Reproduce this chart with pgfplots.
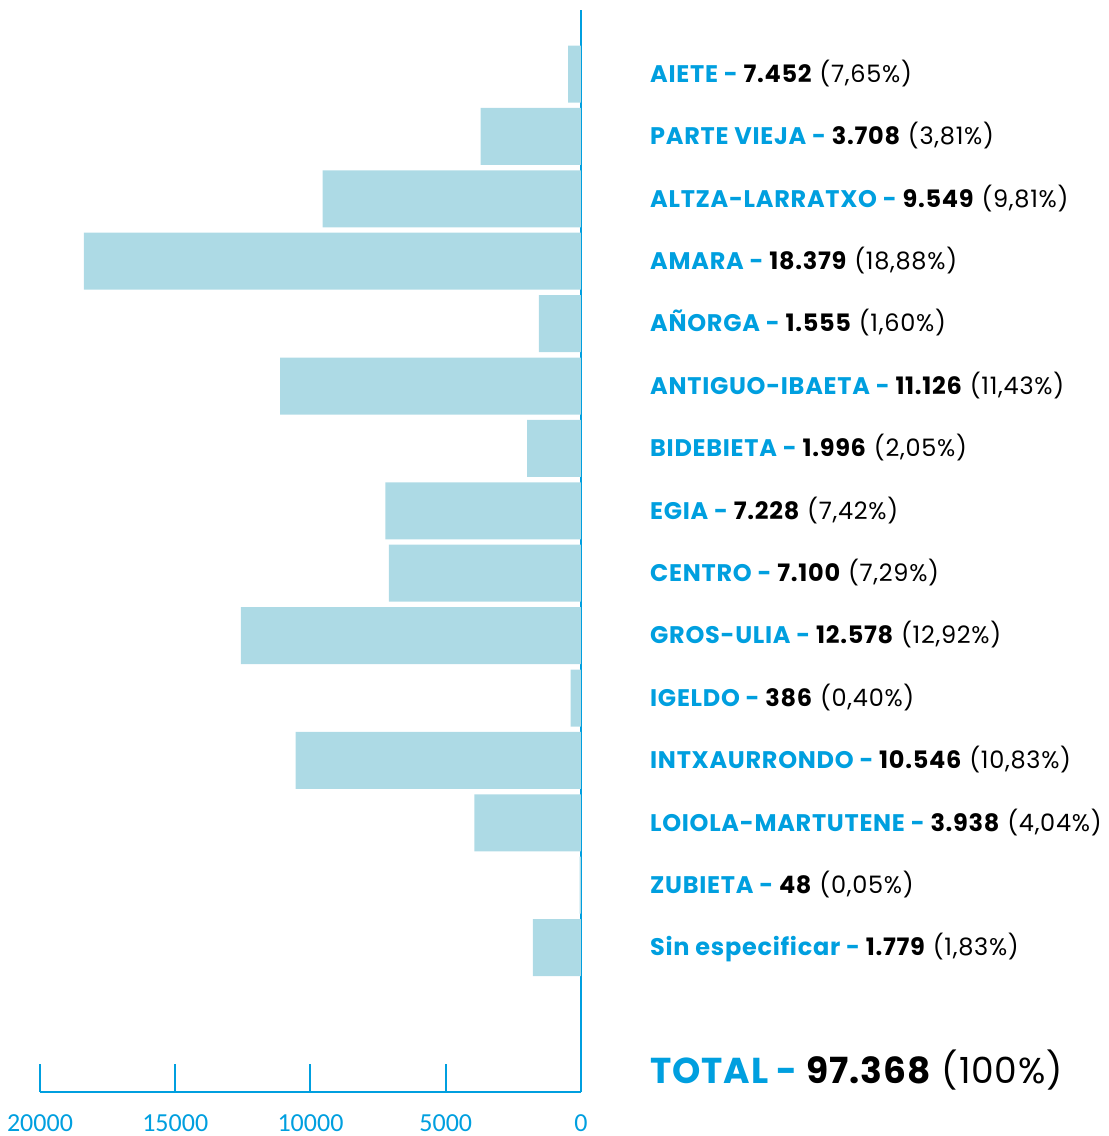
\documentclass[border=0pt]{standalone}
\usepackage{pgfplots}
\pgfplotsset{compat=1.18}
\usepackage{fontspec}
\setmainfont{Poppins}[LetterSpace=3]
\newfontfamily\tickfont{Carlito}
\definecolor{txtblue}{RGB}{0,159,223}
\definecolor{barblue}{RGB}{173,218,229}
\newcommand{\lab}[3]{\textcolor{txtblue}{\bfseries #1 - }\textbf{#2} (#3)}
\begin{document}
\begin{tikzpicture}[x=1pt,y=1pt]
\path[use as bounding box] (0,0) rectangle (1109,1136);
\begin{axis}[
 at={(40pt,44pt)}, anchor=south west,
 scale only axis, width=541pt, height=1082pt,
 xmin=0, xmax=20000, x dir=reverse,
 ymin=-16.314, ymax=1.0256,
 axis x line=bottom, axis y line=none,
 axis line style={-, txtblue, line width=2pt},
 xtick={0,5000,10000,15000,20000},
 scaled x ticks=false,
 xtick align=inside, major tick length=28pt,
 every tick/.style={txtblue, line width=2pt},
 xticklabel style={font=\tickfont\fontsize{26}{26}\selectfont, text=txtblue, inner sep=0pt, anchor=north, yshift=-22pt},
 /pgf/number format/1000 sep={},
 /pgf/number format/assume math mode=true,
 ytick=\empty,
 clip=false,
]
\draw[txtblue, line width=2pt] (axis cs:0,-16.314) -- (axis cs:0,1.0256);
\addplot[xbar, bar width=57pt, fill=barblue, draw=none] coordinates {
(480,0) (3708,-1) (9549,-2) (18379,-3) (1555,-4) (11126,-5) (1996,-6) (7228,-7)
(7100,-8) (12578,-9) (386,-10) (10546,-11) (3938,-12) (48,-13) (1779,-14)};
\begin{scope}[every node/.style={anchor=base west, xshift=69pt, yshift=-8.3pt, inner sep=0pt, font=\fontsize{24}{24}\selectfont}]
\node at (axis cs:0,0) {\lab{AIETE}{7.452}{7,65\%}};
\node at (axis cs:0,-1) {\lab{PARTE VIEJA}{3.708}{3,81\%}};
\node at (axis cs:0,-2) {\lab{ALTZA-LARRATXO}{9.549}{9,81\%}};
\node at (axis cs:0,-3) {\lab{AMARA}{18.379}{18,88\%}};
\node at (axis cs:0,-4) {\lab{AÑORGA}{1.555}{1,60\%}};
\node at (axis cs:0,-5) {\lab{ANTIGUO-IBAETA}{11.126}{11,43\%}};
\node at (axis cs:0,-6) {\lab{BIDEBIETA}{1.996}{2,05\%}};
\node at (axis cs:0,-7) {\lab{EGIA}{7.228}{7,42\%}};
\node at (axis cs:0,-8) {\lab{CENTRO}{7.100}{7,29\%}};
\node at (axis cs:0,-9) {\lab{GROS-ULIA}{12.578}{12,92\%}};
\node at (axis cs:0,-10) {\lab{IGELDO}{386}{0,40\%}};
\node at (axis cs:0,-11) {\lab{INTXAURRONDO}{10.546}{10,83\%}};
\node at (axis cs:0,-12) {\lab{LOIOLA-MARTUTENE}{3.938}{4,04\%}};
\node at (axis cs:0,-13) {\lab{ZUBIETA}{48}{0,05\%}};
\node at (axis cs:0,-14) {\lab{Sin especificar}{1.779}{1,83\%}};
\end{scope}
\end{axis}
\node[anchor=base west, inner sep=0pt, font=\fontsize{36}{36}\selectfont\addfontfeature{LetterSpace=2.5}] at (650,52) {\lab{TOTAL}{97.368}{100\%}};
\end{tikzpicture}
\end{document}
